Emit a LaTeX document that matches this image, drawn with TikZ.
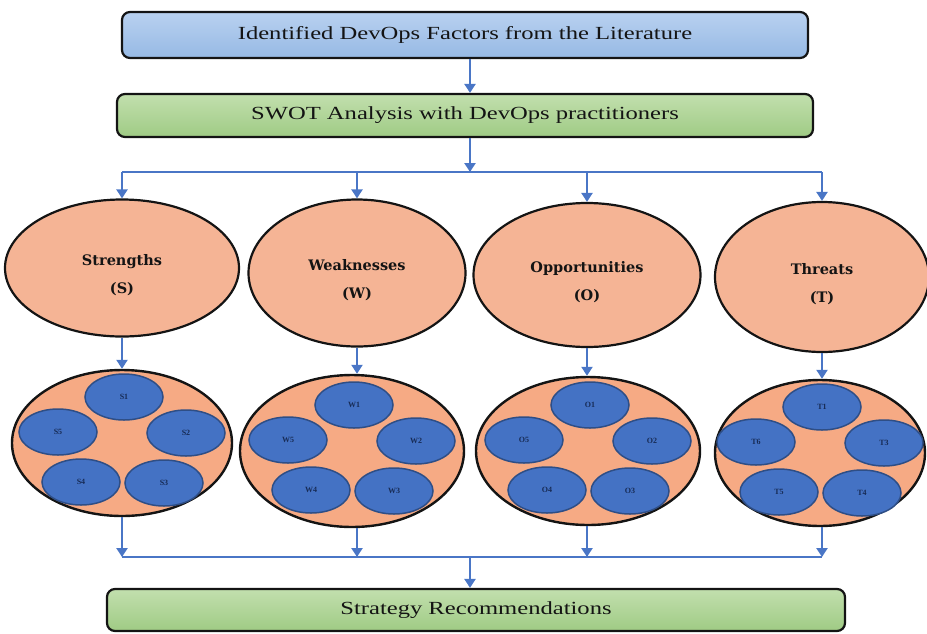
\documentclass[tikz,border=0pt]{standalone}
\usepackage{fontspec}
\setmainfont{Liberation Serif}
\newfontfamily\stagefont[FakeStretch=1.33]{Liberation Serif}
\newfontfamily\labelfont{DejaVu Serif}
\usetikzlibrary{arrows.meta, positioning, shapes.geometric, calc}
\definecolor{litTop}{HTML}{B9D1F0}
\definecolor{litBottom}{HTML}{96B9E4}
\definecolor{greenTop}{HTML}{C2DFAE}
\definecolor{greenBottom}{HTML}{9FCB84}
\definecolor{salmon}{HTML}{F5B495}
\definecolor{ringFill}{HTML}{F6AA84}
\definecolor{factorBlue}{HTML}{4472C4}
\definecolor{factorEdge}{HTML}{2E4E86}
\definecolor{flowBlue}{HTML}{4A76C6}
\definecolor{dark}{HTML}{141414}
\definecolor{navy}{HTML}{172B55}
\tikzset{
  stage/.style={rectangle, rounded corners=8pt, draw=dark, line width=2.2pt,
                text=dark, align=center, inner sep=0pt,
                font=\stagefont\fontsize{18.5}{22}\selectfont},
  litbox/.style={stage, top color=litTop, bottom color=litBottom},
  swotbox/.style={stage, top color=greenTop, bottom color=greenBottom},
  quadrant/.style={ellipse, draw=dark, line width=2.2pt, fill=salmon, text=dark,
                   align=center, inner sep=0pt,
                   font=\labelfont\bfseries\fontsize{14.5}{28}\selectfont},
  ring/.style={ellipse, draw=dark, line width=2.4pt, fill=ringFill, inner sep=0pt},
  factor/.style={ellipse, draw=factorEdge, line width=1.5pt, fill=factorBlue,
                 minimum width=78pt, minimum height=46pt, inner sep=0pt, text=navy,
                 font=\bfseries\fontsize{8}{9}\selectfont},
  flow/.style={-{Triangle[length=9pt, width=11pt]}, draw=flowBlue, line width=2.6pt},
  bus/.style={draw=flowBlue, line width=2.6pt},
}

% #1 = ring node, #2..#6 = factors clockwise from the top
\newcommand{\factorring}[6]{%
  \node[factor] (#1-a) at ([shift={(2,-46)}]#1.center)  {#2};
  \node[factor] (#1-b) at ([shift={(64,-10)}]#1.center) {#3};
  \node[factor] (#1-c) at ([shift={(42,40)}]#1.center)  {#4};
  \node[factor] (#1-d) at ([shift={(-41,39)}]#1.center) {#5};
  \node[factor] (#1-e) at ([shift={(-64,-11)}]#1.center) {#6};
}
% strut that drops the quadrant text a little below the centre
\newcommand{\qdrop}{\rule{0pt}{26pt}}

\begin{document}
\begin{tikzpicture}[x=1pt, y=-1pt]
\useasboundingbox (0,0) rectangle (927,633);

% --- stage boxes ---
\node[litbox, minimum width=686pt, minimum height=46pt] (lit) at (465,35)
  {Identified DevOps Factors from the Literature};
\node[swotbox, minimum width=696pt, minimum height=43pt] (swot) at (465,115.5)
  {SWOT Analysis with DevOps practitioners};
\node[swotbox, minimum width=738pt, minimum height=42pt] (strat) at (476,610)
  {Strategy Recommendations};

% --- SWOT quadrants ---
\node[quadrant, minimum width=234pt, minimum height=137pt] (str) at (122,268) {\qdrop Strengths\\(S)};
\node[quadrant, minimum width=217pt, minimum height=147pt] (wea) at (357,273) {\qdrop Weaknesses\\(W)};
\node[quadrant, minimum width=227pt, minimum height=144pt] (opp) at (587,275) {\qdrop Opportunities\\(O)};
\node[quadrant, minimum width=214pt, minimum height=150pt] (thr) at (822,277) {\qdrop Threats\\(T)};

% --- factor rings ---
\node[ring, minimum width=220pt, minimum height=146pt] (sring) at (122,443) {};
\node[ring, minimum width=224pt, minimum height=152pt] (wring) at (352,451) {};
\node[ring, minimum width=224pt, minimum height=148pt] (oring) at (588,451) {};
\node[ring, minimum width=210pt, minimum height=146pt] (tring) at (820,453) {};

\factorring{sring}{S1}{S2}{S3}{S4}{S5}
\factorring{wring}{W1}{W2}{W3}{W4}{W5}
\factorring{oring}{O1}{O2}{O3}{O4}{O5}
\factorring{tring}{T1}{T3}{T4}{T5}{T6}

% --- connectors ---
\coordinate (split) at (470,172);
\coordinate (merge) at (470,557);

\draw[flow] (split |- lit.south) -- (split |- swot.north);
\draw[flow] (split |- swot.south) -- (split);
\draw[bus] (str.north |- split) -- (thr.north |- split);
\foreach \q in {str, wea, opp, thr}
  \draw[flow] (\q.north |- split) -- (\q.north);

\draw[flow] (str.south) -- (str.south |- sring.north);
\draw[flow] (wea.south) -- (wea.south |- wring.north);
\draw[flow] (opp.south) -- (opp.south |- oring.north);
\draw[flow] (thr.south) -- (thr.south |- tring.north);

\draw[flow] (str.south |- sring.south) -- (str.south |- merge);
\draw[flow] (wea.south |- wring.south) -- (wea.south |- merge);
\draw[flow] (opp.south |- oring.south) -- (opp.south |- merge);
\draw[flow] (thr.south |- tring.south) -- (thr.south |- merge);
\draw[bus] (str.south |- merge) -- (thr.south |- merge);
\draw[flow] (merge) -- (merge |- strat.north);

\end{tikzpicture}
\end{document}
